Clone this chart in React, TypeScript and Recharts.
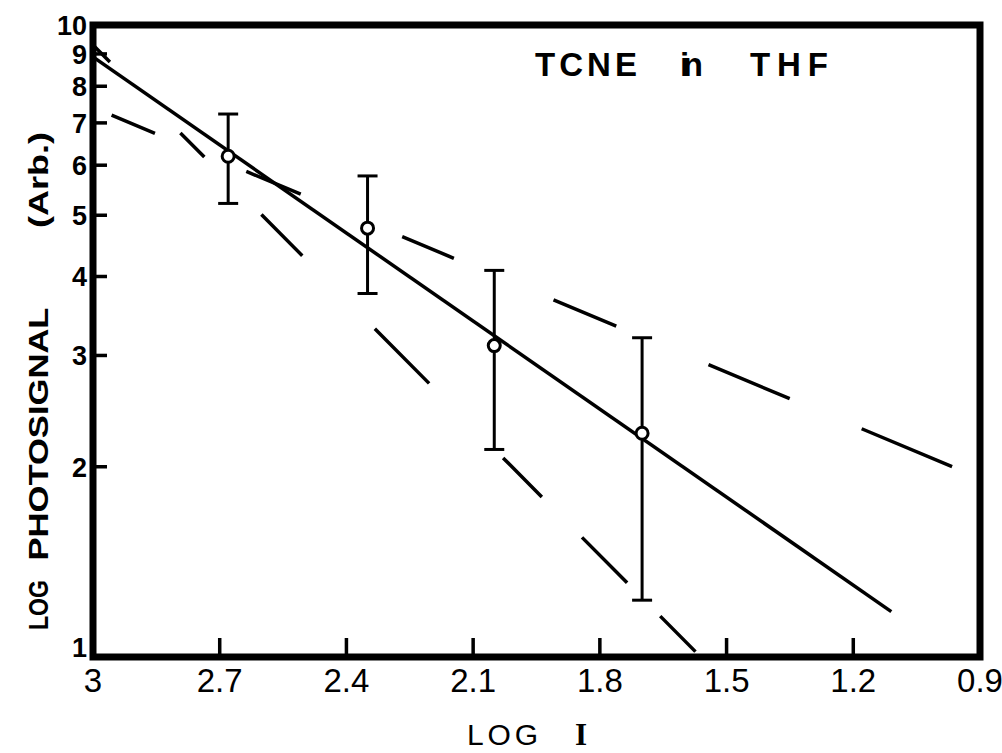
// Log photosignal vs log I for TCNE in THF, redrawn with Recharts.
import {
  ComposedChart,
  ErrorBar,
  Line,
  ReferenceArea,
  Scatter,
  XAxis,
  YAxis,
} from 'recharts'

const xTicks = [3, 2.7, 2.4, 2.1, 1.8, 1.5, 1.2, 0.9]
const yTicks = [1, 2, 3, 4, 5, 6, 7, 8, 9, 10]

// measured points with error bars
const pointX = [2.68, 2.35, 2.05, 1.7]
const pointY = [6.2, 4.77, 3.11, 2.26]
const errLow = [5.22, 3.76, 2.13, 1.23]
const errHigh = [7.23, 5.77, 4.09, 3.2]

// solid fit line and the two dashed reference lines (end points)
const fitX = [3, 1.11]
const fitY = [8.9, 1.18]
const shallowX = [2.956, 0.965]
const shallowY = [7.2, 2.0]
const steepX = [3, 1.561]
const steepY = [9.3, 1]

const INK = '#000'
const FONT = '"Liberation Sans", Arial, sans-serif'

const points = pointX.map((x, i) => ({
  x,
  y: pointY[i],
  err: [pointY[i] - errLow[i], errHigh[i] - pointY[i]],
}))
const fitData = fitX.map((x, i) => ({ x, y: fitY[i] }))
const shallowData = shallowX.map((x, i) => ({ x, y: shallowY[i] }))
const steepData = steepX.map((x, i) => ({ x, y: steepY[i] }))

// tick marks point into the plot; drawn as thin filled bars with the label
function XTick(props: any) {
  const { x, y, payload } = props
  const v = payload.value
  return (
    <g>
      <rect x={x - 1.75} y={y - 19} width={3.5} height={22} fill={INK} />
      <text x={x} y={y + 35} textAnchor="middle" fontFamily={FONT} fontSize={33} fill={INK}>
        {v === 3 ? '3' : v.toFixed(1)}
      </text>
    </g>
  )
}

function YTick(props: any) {
  const { x, y, payload } = props
  const v = payload.value
  return (
    <g>
      <rect x={x - 3} y={y - 1.75} width={17} height={3.5} fill={INK} />
      <text
        x={x - 6}
        y={y + 10 - (v === 1 ? 10 : 0)}
        textAnchor="end"
        fontFamily={FONT}
        fontWeight={700}
        fontSize={27}
        fill={INK}
      >
        {v}
      </text>
    </g>
  )
}

function Labels() {
  const side = {
    fontFamily: FONT,
    fontWeight: 700,
    fontSize: 28,
    fill: INK,
    textAnchor: 'middle' as const,
    lengthAdjust: 'spacingAndGlyphs' as const,
  }
  const title = { fontFamily: FONT, fontWeight: 700, fontSize: 33, fill: INK, y: 76, lengthAdjust: 'spacing' as const }
  return (
    <g>
      <text x={48} y={180} transform="rotate(-90 48 180)" textLength={96} {...side}>
        (Arb.)
      </text>
      <text x={48} y={434} transform="rotate(-90 48 434)" textLength={253} {...side}>
        PHOTOSIGNAL
      </text>
      <text x={48} y={605} transform="rotate(-90 48 605)" textLength={50} {...side}>
        LOG
      </text>
      <text x={535} textLength={102} {...title}>TCNE</text>
      <text x={680} textLength={23} {...title}>in</text>
      <text x={750} textLength={78} {...title}>THF</text>
    </g>
  )
}

function XLabel() {
  return (
    <g fill={INK}>
      <text x={467} y={745} fontFamily={FONT} fontSize={30} textLength={71} lengthAdjust="spacing">
        LOG
      </text>
      <text x={581} y={745} fontFamily='"Liberation Serif", serif' fontWeight={700} fontSize={31} textAnchor="middle">
        I
      </text>
    </g>
  )
}

function OpenCircle(props: any) {
  const { cx, cy } = props
  return <circle cx={cx} cy={cy} r={6} fill="#fff" stroke={INK} strokeWidth={3} />
}

export default function App() {
  return (
    <div style={{ position: 'absolute', left: 0, top: 0, background: '#fff' }}>
      <ComposedChart width={1002} height={753} margin={{ top: 25, right: 22, bottom: 0, left: 0 }}>
        <XAxis
          type="number"
          dataKey="x"
          domain={[0.9, 3]}
          reversed
          allowDataOverflow
          ticks={xTicks}
          interval={0}
          height={96}
          tickSize={0}
          tickMargin={0}
          tickLine={false}
          tick={<XTick />}
          axisLine={false}
          label={<XLabel />}
        />
        <YAxis
          type="number"
          scale="log"
          domain={[1, 10]}
          allowDataOverflow
          ticks={yTicks}
          interval={0}
          width={93}
          tickSize={0}
          tickMargin={0}
          tickLine={false}
          tick={<YTick />}
          axisLine={false}
          label={<Labels />}
        />
        <ReferenceArea
          x1={3}
          x2={0.9}
          y1={1}
          y2={10}
          fill="none"
          fillOpacity={0}
          stroke={INK}
          strokeWidth={7}
          ifOverflow="visible"
        />
        <Line
          data={steepData}
          dataKey="y"
          type="linear"
          stroke={INK}
          strokeWidth={3.5}
          strokeDasharray="24 100 34 81 58 103 77 105 55 57 64 47 50 40"
          dot={false}
          activeDot={false}
          isAnimationActive={false}
        />
        <Line
          data={shallowData}
          dataKey="y"
          type="linear"
          stroke={INK}
          strokeWidth={3.5}
          strokeDasharray="47 99 59 110 56 108 68 100 88 78 98 40"
          dot={false}
          activeDot={false}
          isAnimationActive={false}
        />
        <Line
          data={fitData}
          dataKey="y"
          type="linear"
          stroke={INK}
          strokeWidth={3.5}
          dot={false}
          activeDot={false}
          isAnimationActive={false}
        />
        <Scatter data={points} dataKey="y" shape={<OpenCircle />} isAnimationActive={false}>
          <ErrorBar dataKey="err" direction="y" width={10} stroke={INK} strokeWidth={3} isAnimationActive={false} />
        </Scatter>
      </ComposedChart>
    </div>
  )
}
